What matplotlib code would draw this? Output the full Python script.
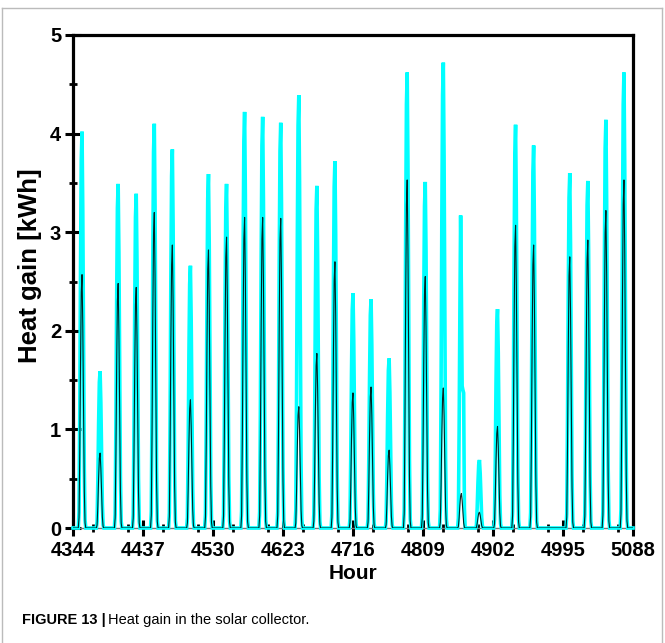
import numpy as np
import matplotlib
matplotlib.use("Agg")
import matplotlib.pyplot as plt
from matplotlib.ticker import MultipleLocator
from matplotlib.lines import Line2D

# ---- data ----
start_hour = 4344
end_hour = 5088
# daily peak heat gain (kWh), cyan series
cyan_peaks = [4.02, 1.59, 3.49, 3.39, 4.10, 3.84, 2.66, 3.59, 3.49, 4.22, 4.17,
              4.11, 4.39, 3.47, 3.72, 2.38, 2.32, 1.72, 4.62, 3.51, 4.72, 3.17,
              0.69, 2.22, 4.09, 3.88, 0.0, 3.60, 3.52, 4.14, 4.62]
# daily peak of the black series
black_peaks = [2.57, 0.76, 2.48, 2.44, 3.20, 2.87, 1.30, 2.82, 2.95, 3.15, 3.15,
               3.14, 1.23, 1.77, 2.70, 1.37, 1.43, 0.79, 3.53, 2.55, 1.42, 0.35,
               0.16, 1.03, 3.07, 2.87, 0.0, 2.75, 2.92, 3.22, 3.53]
# typical hourly shape of a day (fraction of the daily peak), hours 0..23
day_shape = [0, 0, 0, 0, 0, 0, 0, 0, 0.04, 0.30, 0.66, 0.93,
             1.00, 0.80, 0.45, 0.15, 0.02, 0, 0, 0, 0, 0, 0, 0]
# irregular day 21 (cyan), hourly values
day21_cyan = [0, 0, 0, 0, 0, 0, 0, 0, 0.1, 1.0, 2.2, 3.17,
              2.4, 1.44, 1.40, 1.37, 0.2, 0, 0, 0, 0, 0, 0, 0]
xticks = [4344, 4437, 4530, 4623, 4716, 4809, 4902, 4995, 5088]

# ---- build hourly series ----
hours = np.arange(start_hour, end_hour + 1)
cyan = np.zeros(len(hours))
black = np.zeros(len(hours))
for d in range(len(cyan_peaks)):
    for h in range(24):
        i = d * 24 + h
        if i >= len(hours):
            break
        if d == 21:
            cyan[i] = day21_cyan[h]
        else:
            cyan[i] = cyan_peaks[d] * day_shape[h]
        black[i] = black_peaks[d] * day_shape[h]

plt.rcParams['font.family'] = ['Liberation Sans', 'DejaVu Sans']

fig = plt.figure(figsize=(6.65, 6.43), dpi=100)
ax = fig.add_axes([73 / 665, 1 - 528 / 643, 560 / 665, 493 / 643])

ax.plot(hours, cyan, color='#00ffff', lw=2.6, zorder=3, clip_on=False,
        solid_joinstyle='miter')
ax.plot(hours, black, color='black', lw=0.8, zorder=4, alpha=0.85)

ax.set_xlim(start_hour, end_hour)
ax.set_ylim(0, 5)
ax.set_xticks(xticks)
ax.set_xticklabels([str(t) for t in xticks])
ax.xaxis.set_minor_locator(MultipleLocator(46.5))
ax.set_yticks([0, 1, 2, 3, 4, 5])
ax.yaxis.set_minor_locator(MultipleLocator(0.5))

ax.tick_params(axis='both', which='major', direction='inout', length=11,
               width=2.2, labelsize=14.5)
ax.tick_params(axis='x', which='major', pad=4)
ax.tick_params(axis='y', which='major', pad=3)
ax.tick_params(axis='both', which='minor', direction='inout', length=6,
               width=2.0)
for lab in ax.get_xticklabels() + ax.get_yticklabels():
    lab.set_fontweight('bold')

for s in ['left', 'top', 'right']:
    ax.spines[s].set_linewidth(2.3)
ax.spines['bottom'].set_linewidth(1.0)
ax.spines['bottom'].set_color('#777777')

ax.set_xlabel('Hour', fontsize=15, fontweight='bold', labelpad=3)
ax.set_ylabel('Heat gain [kWh]', fontsize=18.5, fontweight='bold',
              va='center')
ax.yaxis.set_label_coords(-0.077, 0.533)

# caption
fig.text(22 / 665, 1 - 624 / 643, 'FIGURE 13 |', fontsize=10.5,
         fontweight='bold', ha='left', va='baseline')
fig.text(108 / 665, 1 - 624 / 643, 'Heat gain in the solar collector.',
         fontsize=10.5, ha='left', va='baseline')

# panel border
for xy in [([2 / 665, 2 / 665], [0, 1 - 8 / 643]),
           ([662 / 665, 662 / 665], [0, 1 - 8 / 643]),
           ([2 / 665, 662 / 665], [1 - 8 / 643, 1 - 8 / 643])]:
    fig.add_artist(Line2D(xy[0], xy[1], color='#bbbbbb', lw=1.0))

fig.savefig('out.png', dpi=100)
